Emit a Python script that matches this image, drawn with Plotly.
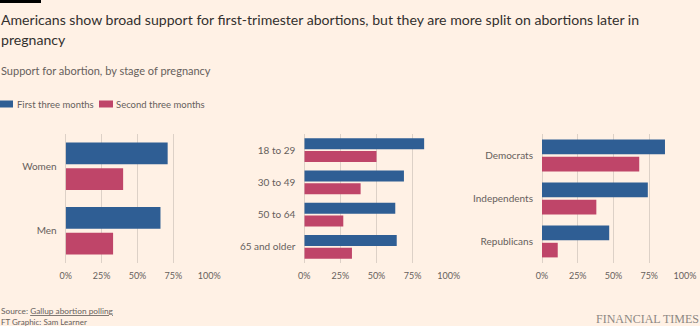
import plotly.graph_objects as go

# ---- data ----
series_names = ["First three months", "Second three months"]
gender_cats = ["Women", "Men"]
gender_first = [71, 66]
gender_second = [40, 33]
age_cats = ["18 to 29", "30 to 49", "50 to 64", "65 and older"]
age_first = [83, 69, 63, 64]
age_second = [50, 39, 27, 33]
party_cats = ["Democrats", "Independents", "Republicans"]
party_first = [86, 74, 47]
party_second = [68, 38, 11]
tick_vals = [0, 25, 50, 75, 100]
tick_text = ["0%", "25%", "50%", "75%", "100%"]

title_line1 = "Americans show broad support for first-trimester abortions, but they are more split on abortions later in"
title_line2 = "pregnancy"
subtitle_text = "Support for abortion, by stage of pregnancy"

BG = "#fff1e5"
BLUE = "#2f5e94"
RED = "#bf4569"
GRID = "#ddd1c7"
TXT = "#66605c"
FONT = "Lato"

W, H = 700, 326

def px_x(x):
    return x / W

def px_y(y):
    return 1 - y / H

fig = go.Figure()

panels = [
    (gender_cats, gender_first, gender_second, (65.7, 209.3)),
    (age_cats, age_first, age_second, (304.3, 448.7)),
    (party_cats, party_first, party_second, (542.0, 685.0)),
]

y_dom = [px_y(263), px_y(134)]
tick_font = dict(family=FONT, size=9, color=TXT)

for i, (cats, first, second, (x0, x1)) in enumerate(panels):
    n = "" if i == 0 else str(i + 1)
    fig.add_trace(go.Bar(y=cats, x=first, orientation="h", name=series_names[0],
                         marker=dict(color=BLUE, line=dict(width=0)),
                         xaxis="x" + n, yaxis="y" + n, showlegend=False,
                         hoverinfo="x+y"))
    fig.add_trace(go.Bar(y=cats, x=second, orientation="h", name=series_names[1],
                         marker=dict(color=RED, line=dict(width=0)),
                         xaxis="x" + n, yaxis="y" + n, showlegend=False,
                         hoverinfo="x+y"))
    xa = dict(domain=[px_x(x0), px_x(x1 + 0.05)], range=[0, 100.035], tickvals=tick_vals,
              ticktext=tick_text, showgrid=True, gridcolor=GRID, gridwidth=1,
              zeroline=True, zerolinecolor=GRID, zerolinewidth=1, showline=False,
              ticks="", ticklabelstandoff=6, automargin=False,
              ticklabeloverflow="allow",
              tickfont=tick_font, anchor="y" + n, fixedrange=True)
    ya = dict(domain=y_dom, autorange="reversed", showgrid=False, zeroline=False,
              showline=False, ticks="", ticklabelstandoff=8, automargin=False,
              tickfont=dict(family=FONT, size=10, color=TXT),
              anchor="x" + n, fixedrange=True)
    fig.update_layout(**{"xaxis" + n: xa, "yaxis" + n: ya})

annotations = [
    dict(text=title_line1, x=0, y=px_y(19), xanchor="left", yanchor="middle",
         font=dict(family=FONT, size=14.1, color="#33302e"), align="left"),
    dict(text=title_line2, x=0, y=px_y(40), xanchor="left", yanchor="middle",
         font=dict(family=FONT, size=14.1, color="#33302e"), align="left"),
    dict(text=subtitle_text, x=0, y=px_y(71), xanchor="left", yanchor="middle",
         font=dict(family=FONT, size=11, color=TXT), align="left"),
    dict(text=series_names[0], x=px_x(15.5), y=px_y(104.5), xanchor="left", yanchor="middle",
         font=dict(family=FONT, size=9.5, color=TXT)),
    dict(text=series_names[1], x=px_x(114.5), y=px_y(104.5), xanchor="left", yanchor="middle",
         font=dict(family=FONT, size=9.5, color=TXT)),
    dict(text='Source: <span style="text-decoration:underline">Gallup abortion polling</span>',
         x=0, y=px_y(310.5), xanchor="left", yanchor="middle",
         font=dict(family=FONT, size=8.3, color=TXT)),
    dict(text="FT Graphic: Sam Learner", x=0, y=px_y(321.5), xanchor="left", yanchor="middle",
         font=dict(family=FONT, size=8, color=TXT)),
    dict(text="FINANCIAL TIMES", x=1, y=px_y(318.5), xanchor="right", yanchor="middle",
         font=dict(family="Liberation Serif", size=12, color="#8c8782")),
]
for a in annotations:
    a.update(xref="paper", yref="paper", showarrow=False, borderpad=0)

shapes = [
    dict(type="rect", xref="paper", yref="paper", x0=0, x1=px_x(41), y0=px_y(3), y1=1,
         fillcolor="#000000", line=dict(width=0)),
    dict(type="rect", xref="paper", yref="paper", x0=0, x1=px_x(13), y0=px_y(107.5), y1=px_y(100.5),
         fillcolor=BLUE, line=dict(width=0)),
    dict(type="rect", xref="paper", yref="paper", x0=px_x(99), x1=px_x(113), y0=px_y(107.5), y1=px_y(100.5),
         fillcolor=RED, line=dict(width=0)),
]

fig.update_layout(
    width=W, height=H, autosize=False, margin=dict(l=0, r=0, t=0, b=0, pad=0),
    paper_bgcolor=BG, plot_bgcolor=BG,
    barmode="group", bargap=0.2, bargroupgap=0.15,
    showlegend=False, annotations=annotations, shapes=shapes,
    font=dict(family=FONT, color=TXT),
)

fig.write_html("out.html", config={"displayModeBar": False, "responsive": False})
